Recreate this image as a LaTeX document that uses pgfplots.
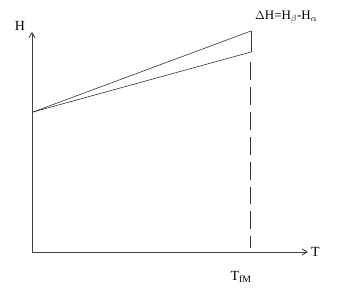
\documentclass[border=0pt]{standalone}
\usepackage{pgfplots}
\pgfplotsset{compat=1.18}
\usetikzlibrary{arrows.meta}
\usepackage{fontspec}
\setmainfont{Liberation Serif}
\begin{document}
\begin{tikzpicture}
\begin{axis}[
  width=356bp, height=288bp, scale only axis,
  xmin=0, xmax=356, ymin=0, ymax=288,
  axis lines=none, clip=false,
]
\coordinate (ll) at (axis cs:0,0);
\coordinate (ur) at (axis cs:356,288);
% axes
\addplot[black!75, line width=0.9pt, -{Straight Barb[length=5pt,width=6pt]}] coordinates {(32,36) (32,256)};
\addplot[black!75, line width=0.9pt, -{Straight Barb[length=5pt,width=6pt]}] coordinates {(32,36) (308,36)};
% enthalpy lines
\addplot[black!80, line width=0.6pt] coordinates {(33,176) (251,257)};
\addplot[black!80, line width=0.6pt] coordinates {(33,176) (251,236)};
\addplot[black!80, line width=0.6pt] coordinates {(251,257) (251,236)};
% dashed vertical
\addplot[black!80, line width=0.6pt, dash pattern=on 18pt off 7pt] coordinates {(250,226) (250,40)};
\node[font=\fontsize{14}{16}\selectfont, inner sep=0pt] at (axis cs:20,262) {H};
\node[font=\fontsize{14}{16}\selectfont, inner sep=0pt, anchor=west] at (axis cs:311,36) {T};
\node[font=\fontsize{13}{15}\selectfont, inner sep=0pt, anchor=west] at (axis cs:255,271) {$\Delta$H=H$_\beta$-H$_\alpha$};
\node[font=\fontsize{14}{16}\selectfont, inner sep=0pt] at (axis cs:241,11) {T$_{\mathrm{fM}}$};
\end{axis}
\pgfresetboundingbox
\path (ll) rectangle (ur);
\end{tikzpicture}
\end{document}
